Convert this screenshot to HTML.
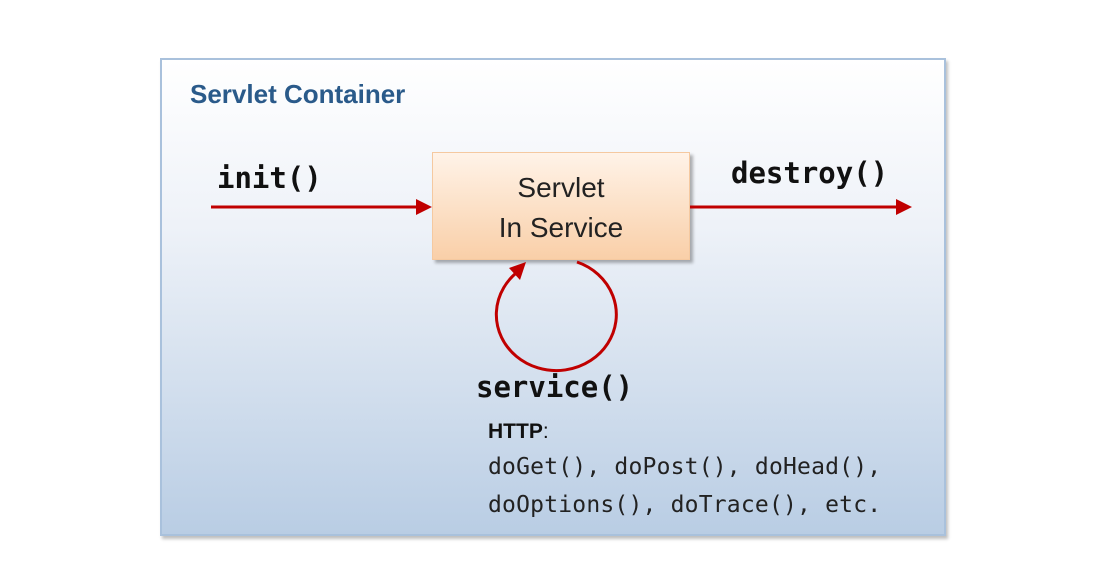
<!DOCTYPE html>
<html><head><meta charset="utf-8"><style>
html,body{margin:0;padding:0;background:#fff;}
body{width:1114px;height:586px;position:relative;overflow:hidden;}
.c{position:absolute;left:160px;top:58px;width:786px;height:478px;border:2px solid #a9c1dc;box-sizing:border-box;
background:linear-gradient(#ffffff 0%,#eef2f8 35%,#b9cde4 100%);box-shadow:2px 3px 3px rgba(0,0,0,0.25);}
.t{position:absolute;font-family:"Liberation Sans",sans-serif;white-space:nowrap;}
.m{font-family:"DejaVu Sans Mono","Liberation Mono",monospace;}
.box{position:absolute;left:432px;top:152px;width:258px;height:108px;box-sizing:border-box;border:1.5px solid #f5c9a0;
background:linear-gradient(#fff3e8,#f9cfa8);box-shadow:3px 3px 3px rgba(0,0,0,0.3);text-align:center;
font-family:"Liberation Sans",sans-serif;font-size:28px;color:#222;line-height:40px;padding-top:15px;}
</style></head><body>
<div class="c"></div>
<div class="t" style="left:190px;top:79px;font-size:26px;font-weight:bold;color:#2a5a8a;">Servlet Container</div>
<div class="box">Servlet<br>In Service</div>
<svg style="position:absolute;left:0;top:0" width="1114" height="586">
<g stroke="#c00000" stroke-width="3" fill="none">
<line x1="211" y1="207" x2="420" y2="207"/>
<line x1="690" y1="207" x2="898" y2="207"/>
<path d="M577 262 A60 56 0 1 1 520 270"/>
</g>
<polygon points="432,207 416,199 416,215" fill="#c00000"/>
<polygon points="912,207 896,199 896,215" fill="#c00000"/>
<polygon points="526,262 509,268 520,280" fill="#c00000"/>
</svg>
<div class="t m" style="left:217px;top:161px;font-size:29px;font-weight:bold;color:#111;">init()</div>
<div class="t m" style="left:731px;top:156px;font-size:29px;font-weight:bold;color:#111;">destroy()</div>
<div class="t m" style="left:476px;top:370px;font-size:29px;font-weight:bold;color:#111;">service()</div>
<div class="t" style="left:488px;top:420px;font-size:21px;color:#111;"><b>HTTP</b>:</div>
<div class="t m" style="left:488px;top:454px;font-size:23px;color:#222;letter-spacing:0.2px;">doGet(), doPost(), doHead(),</div>
<div class="t m" style="left:488px;top:492px;font-size:23px;color:#222;letter-spacing:0.2px;">doOptions(), doTrace(), etc.</div>
</body></html>
